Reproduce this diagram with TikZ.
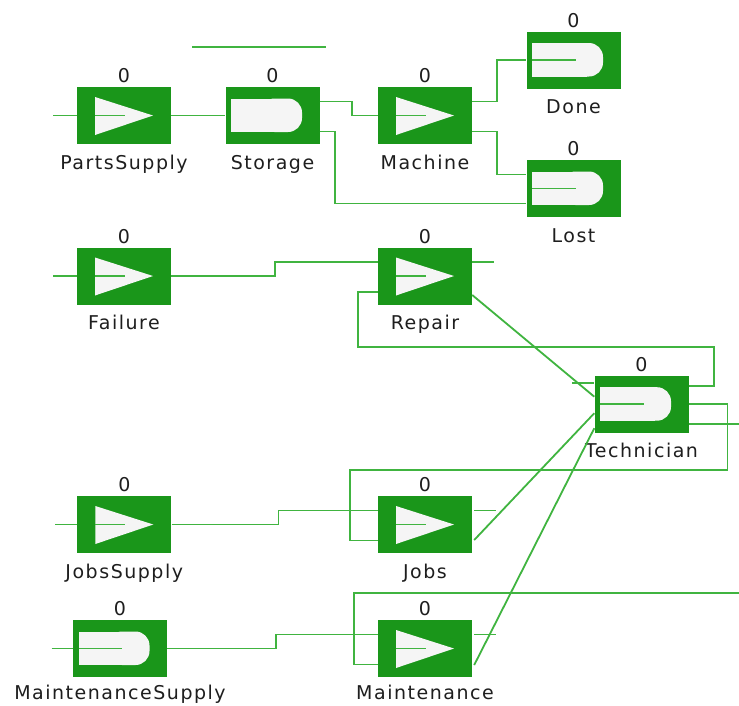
\documentclass[tikz,border=0pt]{standalone}
\usepackage{fontspec}
\setmainfont{DejaVu Sans}[LetterSpace=8]
\usetikzlibrary{calc}
\definecolor{boxgreen}{RGB}{26,150,26}
\definecolor{linkgreen}{RGB}{64,180,64}
\definecolor{iconwhite}{RGB}{245,245,245}
\definecolor{txt}{RGB}{30,30,30}
\tikzset{
  link/.style={draw=linkgreen, line width=1.8pt},
  box/.style={rectangle, fill=boxgreen, minimum width=94pt, minimum height=57pt, inner sep=0pt},
  lbl/.style={font=\fontsize{19}{22}\selectfont, inner sep=0pt, text=txt},
  tribox/.style={box, path picture={
    \coordinate (nw) at (path picture bounding box.north west);
    \fill[iconwhite] ($(nw)+(18,10)$) -- ($(nw)+(76,28.5)$) -- ($(nw)+(18,48)$) -- cycle;
    \draw[link] ($(nw)+(18,28.5)$) -- ($(nw)+(48,28.5)$);
  }},
  dbox/.style={box, path picture={
    \coordinate (nw) at (path picture bounding box.north west);
    \fill[iconwhite] ($(nw)+(5.5,11.5)$) rectangle ($(nw)+(60,45)$);
    \fill[iconwhite, rounded corners=14pt] ($(nw)+(35,11.5)$) rectangle ($(nw)+(76.5,45)$);
  }},
  dlinebox/.style={box, path picture={
    \coordinate (nw) at (path picture bounding box.north west);
    \fill[iconwhite] ($(nw)+(5.5,11.5)$) rectangle ($(nw)+(60,45)$);
    \fill[iconwhite, rounded corners=14pt] ($(nw)+(35,11.5)$) rectangle ($(nw)+(76.5,45)$);
    \draw[link] ($(nw)+(5.5,28.5)$) -- ($(nw)+(49,28.5)$);
  }},
}
\newcommand\mkblock[5][25pt]{%
  \node[#2] (#3) at (#4) {};
  \node[lbl, anchor=base] (#3-n) at ([yshift=4pt]#3.north) {0};
  \node[lbl, anchor=base] (#3-l) at ([yshift=-#1]#3.south) {#5};
}
\begin{document}
\begin{tikzpicture}[x=1pt, y=-1pt]
\fill[white] (0,0) rectangle (739,705);
\useasboundingbox (0,0) rectangle (739,705);

\mkblock{tribox}{PartsSupply}{124,115.5}{PartsSupply}
\mkblock{dbox}{Storage}{272.5,115.5}{Storage}
\mkblock{tribox}{Machine}{425,115.5}{Machine}
\mkblock{dlinebox}{Done}{573.5,60}{Done}
\mkblock{dlinebox}{Lost}{573.5,188.5}{Lost}
\mkblock{tribox}{Failure}{124,276}{Failure}
\mkblock{tribox}{Repair}{425,276}{Repair}
\mkblock{dlinebox}{Technician}{641.5,404.2}{Technician}
\mkblock{tribox}{JobsSupply}{124.3,524.5}{JobsSupply}
\mkblock{tribox}{Jobs}{425,524.5}{Jobs}
\mkblock[22.5pt]{dlinebox}{MaintenanceSupply}{120,648.5}{MaintenanceSupply}
\mkblock[22.5pt]{tribox}{Maintenance}{425,648.5}{Maintenance}

\coordinate (psin) at (53,115.5);
\coordinate (fin) at (53,276);
\coordinate (jsin) at (55,524.5);
\coordinate (msin) at (51.7,648.5);
\coordinate (tl1) at (192,47.3);
\coordinate (tl2) at (326,47.3);
\coordinate (rstub) at ($(Repair.east)+(22,-14)$);
\coordinate (jstub) at ($(Jobs.east)+(24,-14)$);
\coordinate (mstub) at ($(Maintenance.east)+(24,-14)$);
\coordinate (tin) at ($(Technician.west)+(-22,-21)$);
\coordinate (tout) at ($(Technician.east)+(51,20)$);
\coordinate (mloop) at (739,593);
\coordinate (rloop) at (714,346.7);
\coordinate (jloop) at (350,470);

\draw[link] (psin) -- (PartsSupply.west);
\draw[link] (PartsSupply.east) -- (Storage.west);
\draw[link] ([yshift=14pt]Storage.east) -- ++(32,0) |- (Machine.west);
\draw[link] ([yshift=-16pt]Storage.east) -- ++(15,0) |- ([yshift=-15pt]Lost.west);
\draw[link] ([yshift=14pt]Machine.east) -- ++(25,0) |- (Done.west);
\draw[link] ([yshift=-16pt]Machine.east) -- ++(25,0) |- ([yshift=14pt]Lost.west);
\draw[link] (tl1) -- (tl2);
\draw[link] (fin) -- (Failure.west);
\draw[link] (Failure.east) -- ++(104,0) |- ([yshift=14pt]Repair.west);
\draw[link] ([yshift=14pt]Repair.east) -- (rstub);
\draw[link] ([yshift=-16pt]Repair.west) -- ++(-20,0) |- (rloop) |- ([yshift=18pt]Technician.east);
\draw[link] ([yshift=-19pt]Repair.east) -- ([yshift=7.5pt]Technician.west);
\draw[link] (tin) -- ([yshift=21pt]Technician.west);
\draw[link] (Technician.east) -- ++(38.7,0) |- (jloop) |- ([yshift=-16pt]Jobs.west);
\draw[link] ([yshift=-20pt]Technician.east) -- (tout);
\draw[link] (jsin) -- (JobsSupply.west);
\draw[link] (JobsSupply.east) -- ++(107,0) |- ([yshift=14pt]Jobs.west);
\draw[link] ([xshift=2pt,yshift=14pt]Jobs.east) -- (jstub);
\draw[link] ([xshift=2pt,yshift=-15.5pt]Jobs.east) -- ([yshift=-9pt]Technician.west);
\draw[link] (msin) -- (MaintenanceSupply.west);
\draw[link] (MaintenanceSupply.east) -- ++(109,0) |- ([yshift=14pt]Maintenance.west);
\draw[link] (mloop) -- ++(-385,0) |- ([yshift=-16pt]Maintenance.west);
\draw[link] ([xshift=2pt,yshift=14pt]Maintenance.east) -- (mstub);
\draw[link] ([xshift=2pt,yshift=-16.5pt]Maintenance.east) -- ([yshift=-24pt]Technician.west);
\end{tikzpicture}
\end{document}
